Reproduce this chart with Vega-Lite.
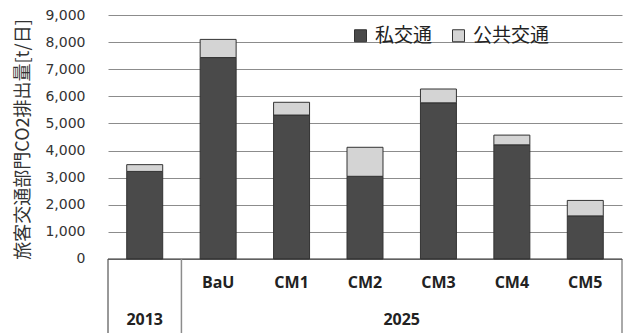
{
  "$schema": "https://vega.github.io/schema/vega-lite/v6.json",
  "autosize": {"type": "none"},
  "padding": {"left": 108, "top": 15, "right": 5, "bottom": 0},
  "width": 514,
  "height": 318,
  "background": "white",
  "config": {
    "view": {"stroke": null},
    "legend": {
      "symbolStrokeColor": "#333333",
      "symbolStrokeWidth": 1
    }
  },
  "resolve": {"axis": {"y": "independent"}},
  "data": {
    "values": [
      {"cat": "2013", "sub": "", "type": "私交通", "value": 3230},
      {"cat": "2013", "sub": "", "type": "公共交通", "value": 250},
      {"cat": "BaU", "sub": "BaU", "type": "私交通", "value": 7430},
      {"cat": "BaU", "sub": "BaU", "type": "公共交通", "value": 670},
      {"cat": "CM1", "sub": "CM1", "type": "私交通", "value": 5310},
      {"cat": "CM1", "sub": "CM1", "type": "公共交通", "value": 470},
      {"cat": "CM2", "sub": "CM2", "type": "私交通", "value": 3050},
      {"cat": "CM2", "sub": "CM2", "type": "公共交通", "value": 1070},
      {"cat": "CM3", "sub": "CM3", "type": "私交通", "value": 5760},
      {"cat": "CM3", "sub": "CM3", "type": "公共交通", "value": 510},
      {"cat": "CM4", "sub": "CM4", "type": "私交通", "value": 4210},
      {"cat": "CM4", "sub": "CM4", "type": "公共交通", "value": 360},
      {"cat": "CM5", "sub": "CM5", "type": "私交通", "value": 1590},
      {"cat": "CM5", "sub": "CM5", "type": "公共交通", "value": 570}
    ]
  },
  "encoding": {
    "x": {
      "field": "cat",
      "type": "nominal",
      "sort": ["2013", "BaU", "CM1", "CM2", "CM3", "CM4", "CM5"],
      "scale": {"type": "band", "paddingInner": 0, "paddingOuter": 0},
      "axis": null
    }
  },
  "layer": [
    {
      "mark": {"type": "bar", "width": {"band": 0.49}, "stroke": "#333333", "strokeWidth": 1},
      "encoding": {
        "y": {
          "field": "value",
          "type": "quantitative",
          "stack": "zero",
          "scale": {"domain": [-2730, 9000], "nice": false, "zero": false},
          "axis": {
            "values": [0, 1000, 2000, 3000, 4000, 5000, 6000, 7000, 8000, 9000],
            "format": ",d",
            "grid": true,
            "gridColor": "#8c8c8c",
            "gridWidth": 1,
            "domain": false,
            "ticks": false,
            "labelPadding": 23,
            "labelFont": "DejaVu Sans",
            "labelFontSize": 14,
            "labelColor": "#333333",
            "title": "旅客交通部門CO2排出量[t/日]",
            "titleFont": "Noto Sans CJK JP",
            "titleFontSize": 18,
            "titleFontWeight": "normal",
            "titleColor": "#333333",
            "titleAngle": -90,
            "titleAlign": "center",
            "titleBaseline": "middle",
            "titleX": -85,
            "titleY": 124
          }
        },
        "color": {
          "field": "type",
          "type": "nominal",
          "scale": {"domain": ["私交通", "公共交通"], "range": ["#4a4a4a", "#d4d4d4"]},
          "legend": {
            "title": null,
            "orient": "none",
            "legendX": 243,
            "legendY": 11,
            "direction": "horizontal",
            "symbolType": "square",
            "symbolSize": 144,
            "labelFont": "Noto Sans CJK JP",
            "labelFontSize": 19,
            "labelColor": "#222222",
            "labelOffset": 5,
            "columnPadding": 16
          }
        },
        "order": {"field": "type", "sort": "descending"}
      }
    },
    {
      "data": {"values": [{}]},
      "mark": {"type": "rule", "color": "#333333", "strokeWidth": 1},
      "encoding": {"y": {"datum": 0, "axis": null}, "x": null}
    },
    {
      "data": {"values": [{}]},
      "mark": {"type": "rule", "color": "#333333", "strokeWidth": 1},
      "encoding": {"x": {"datum": "2013", "bandPosition": 0}, "y": {"datum": 0, "axis": null}, "y2": {"datum": -2730}}
    },
    {
      "data": {"values": [{}]},
      "mark": {"type": "rule", "color": "#8c8c8c", "strokeWidth": 1.5},
      "encoding": {"x": {"datum": "BaU", "bandPosition": 0}, "y": {"datum": 0, "axis": null}, "y2": {"datum": -2730}}
    },
    {
      "data": {"values": [{}]},
      "mark": {"type": "rule", "color": "#555555", "strokeWidth": 1},
      "encoding": {"x": {"datum": "CM5", "bandPosition": 1}, "y": {"datum": 0, "axis": null}, "y2": {"datum": -2730}}
    },
    {
      "transform": [{"filter": "datum.type === '私交通'"}],
      "mark": {"type": "text", "font": "Open Sans", "fontSize": 16, "fontWeight": "bold", "color": "#222222", "baseline": "middle"},
      "encoding": {"y": {"datum": -885, "axis": null}, "text": {"field": "sub"}}
    },
    {
      "data": {"values": [{}]},
      "mark": {"type": "text", "font": "Open Sans", "fontSize": 16, "fontWeight": "bold", "color": "#222222", "baseline": "middle"},
      "encoding": {"x": {"datum": "2013"}, "y": {"datum": -2250, "axis": null}, "text": {"value": "2013"}}
    },
    {
      "data": {"values": [{}]},
      "mark": {"type": "text", "font": "Open Sans", "fontSize": 16, "fontWeight": "bold", "color": "#222222", "baseline": "middle"},
      "encoding": {"x": {"datum": "CM2", "bandPosition": 1}, "y": {"datum": -2250, "axis": null}, "text": {"value": "2025"}}
    }
  ]
}
